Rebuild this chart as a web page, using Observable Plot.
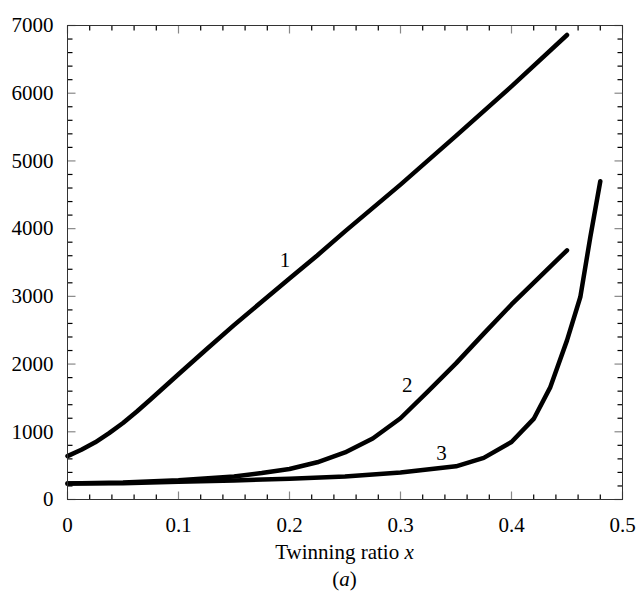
<!DOCTYPE html>
<html><head><meta charset="utf-8">
<script src="https://cdn.jsdelivr.net/npm/d3@7"></script>
<script src="https://cdn.jsdelivr.net/npm/@observablehq/plot@0.6"></script>
<style>
body{margin:0;background:#fff;font-family:"Liberation Serif","Times New Roman",serif;}
#wrap{width:639px;height:591px;position:relative;overflow:hidden;background:#fff}
.cap{margin-left:67px;width:555px;text-align:center;font-size:21px;color:#000;white-space:nowrap}
</style></head><body><div id="wrap"><div id="chart"></div>
<div class="cap" style="line-height:24px">Twinning ratio <i>x</i></div>
<div class="cap" style="line-height:30px">(<i>a</i>)</div></div>
<script>
// Curve 1
const curve1X = [0, 0.0125, 0.025, 0.0375, 0.05, 0.0625, 0.075, 0.1, 0.125, 0.15, 0.175, 0.2, 0.225, 0.25, 0.3, 0.35, 0.4, 0.45];
const curve1Y = [640, 735, 845, 980, 1130, 1300, 1480, 1850, 2215, 2575, 2920, 3264, 3604, 3960, 4650, 5370, 6100, 6860];
// Curve 2
const curve2X = [0, 0.05, 0.1, 0.15, 0.175, 0.2, 0.225, 0.25, 0.275, 0.3, 0.325, 0.35, 0.375, 0.4, 0.425, 0.45];
const curve2Y = [235, 250, 285, 340, 390, 450, 550, 695, 900, 1200, 1600, 2010, 2450, 2880, 3280, 3680];
// Curve 3
const curve3X = [0, 0.05, 0.1, 0.15, 0.2, 0.25, 0.3, 0.35, 0.375, 0.4, 0.42, 0.435, 0.45, 0.462, 0.471, 0.48];
const curve3Y = [235, 240, 262, 282, 305, 340, 400, 490, 615, 850, 1190, 1660, 2350, 2990, 3875, 4700];
// Curve labels
const labelText = ["1", "2", "3"];
const labelX = [0.196, 0.306, 0.337];
const labelY = [3530, 1684, 690];
// Axes
const xDomain = [0, 0.5];
const yDomain = [0, 7000];
const xMajor = [0, 0.1, 0.2, 0.3, 0.4, 0.5];
const xMinor = [0.02, 0.04, 0.06, 0.08, 0.12, 0.14, 0.16, 0.18, 0.22, 0.24, 0.26, 0.28, 0.32, 0.34, 0.36, 0.38, 0.42, 0.44, 0.46, 0.48];
const yMajor = [0, 1000, 2000, 3000, 4000, 5000, 6000, 7000];
const yMinor = [200, 400, 600, 800, 1200, 1400, 1600, 1800, 2200, 2400, 2600, 2800, 3200, 3400, 3600, 3800, 4200, 4400, 4600, 4800, 5200, 5400, 5600, 5800, 6200, 6400, 6600, 6800];

const rows = [];
[[curve1X, curve1Y, "1"], [curve2X, curve2Y, "2"], [curve3X, curve3Y, "3"]].forEach(([xs, ys, s]) => {
  xs.forEach((x, i) => rows.push({series: s, x, y: ys[i]}));
});

const layout = {width: 639, height: 540, marginLeft: 67, marginRight: 17, marginTop: 25, marginBottom: 41};
// data units per pixel, so inward ticks can be drawn as short links in data space
const xPerPx = (xDomain[1] - xDomain[0]) / (layout.width - layout.marginLeft - layout.marginRight);
const yPerPx = (yDomain[1] - yDomain[0]) / (layout.height - layout.marginTop - layout.marginBottom);

const ticksX = (data, atY, dir, len, stroke) =>
  Plot.link(data, {x1: d => d, x2: d => d, y1: () => atY, y2: () => atY + dir * len * yPerPx, stroke, strokeWidth: 1.2});
const ticksY = (data, atX, dir, len, stroke) =>
  Plot.link(data, {y1: d => d, y2: d => d, x1: () => atX, x2: () => atX + dir * len * xPerPx, stroke, strokeWidth: 1.2});

const plot = Plot.plot({
  ...layout,
  style: {fontFamily: "'Liberation Serif', 'Times New Roman', serif", fontSize: "21px", background: "#fff"},
  x: {domain: xDomain},
  y: {domain: yDomain},
  marks: [
    Plot.axisX(xMajor, {tickSize: 0, tickPadding: 18, tickFormat: d => String(d), label: null, fontSize: 21}),
    Plot.axisY(yMajor, {tickSize: 0, tickPadding: 14, tickFormat: d => String(d), label: null, fontSize: 21}),
    ticksX(xMinor, yDomain[0], 1, 5, "#000"),
    ticksX(xMinor, yDomain[1], -1, 5, "#000"),
    ticksX(xMajor, yDomain[0], 1, 8, "#888"),
    ticksX(xMajor, yDomain[1], -1, 8, "#888"),
    ticksY(yMinor, xDomain[0], 1, 5, "#000"),
    ticksY(yMinor, xDomain[1], -1, 5, "#000"),
    ticksY(yMajor, xDomain[0], 1, 8, "#888"),
    ticksY(yMajor, xDomain[1], -1, 8, "#888"),
    Plot.line(rows, {x: "x", y: "y", z: "series", stroke: "black", strokeWidth: 4.5, strokeLinejoin: "round", strokeLinecap: "round"}),
    Plot.text(labelText, {x: labelX, y: labelY, text: d => d, fontSize: 21, fill: "black"}),
    Plot.frame({stroke: "#333", strokeWidth: 1})
  ]
});
document.getElementById("chart").appendChild(plot);
</script></body></html>
